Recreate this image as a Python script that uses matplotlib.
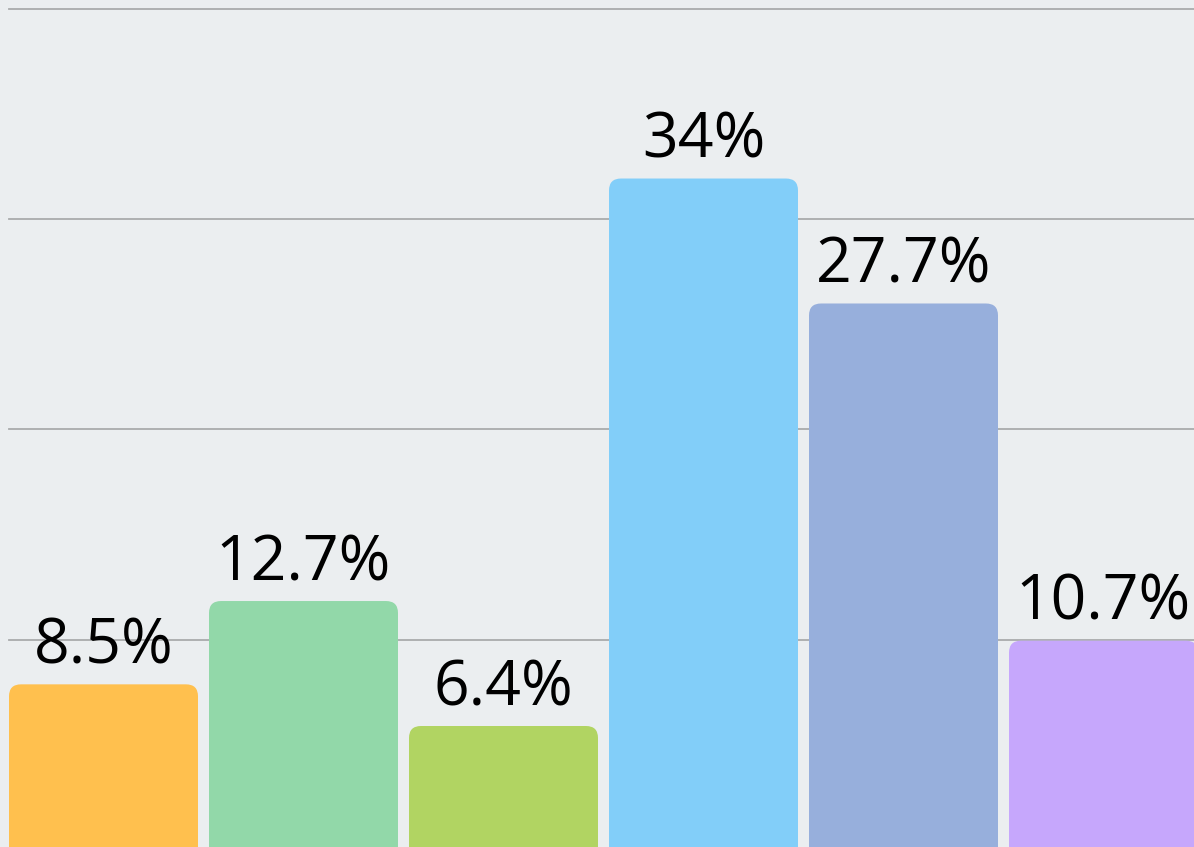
import matplotlib
matplotlib.use("Agg")
import matplotlib.pyplot as plt
from matplotlib.patches import FancyBboxPatch

shares = [8.5, 12.7, 6.4, 34.0, 27.7, 10.7]
labels = ["8.5%", "12.7%", "6.4%", "34%", "27.7%", "10.7%"]
colors = ["#FFC04E", "#92D8A9", "#B1D462", "#82CEF9", "#97AFDC", "#C6A7FC"]
grid_vals = [10.75, 21.35, 31.95, 42.55]

plt.rcParams['font.family'] = ['Open Sans', 'DejaVu Sans']

fig = plt.figure(figsize=(11.94, 8.47), dpi=100)
fig.patch.set_facecolor("#ebeef0")
ax = fig.add_axes([0, 0, 1, 1])
ax.set_facecolor("#ebeef0")

x = list(range(len(shares)))
bars = ax.bar(x, shares, width=0.945, color=colors, zorder=2)

ax.set_xlim(-0.5175, 5.4525)
ax.set_ylim(0.3, 43.0)

# rounded tops: swap the plain rectangles for rounded boxes
aspect = (43.0 - 0.3) / 847 * 1194 / (5.4525 + 0.5175)
for rect, c in zip(bars, colors):
    rect.set_visible(False)
    box = FancyBboxPatch((rect.get_x(), rect.get_y() - 2), rect.get_width(),
                         rect.get_height() + 2,
                         boxstyle="round,pad=0,rounding_size=0.06",
                         mutation_aspect=aspect, facecolor=c,
                         edgecolor="none", zorder=2)
    ax.add_patch(box)

for g in grid_vals:
    ax.axhline(g, xmin=9 / 1194, xmax=1, color="#a9abac", lw=1.3, zorder=1)

for xi, v, lab in zip(x, shares, labels):
    ax.annotate(lab, (xi, v), xytext=(0, 15), textcoords="offset points",
                ha="center", va="baseline", fontsize=45, color="black",
                zorder=3)

ax.axis("off")
fig.savefig("out.png", dpi=100, facecolor=fig.get_facecolor())
